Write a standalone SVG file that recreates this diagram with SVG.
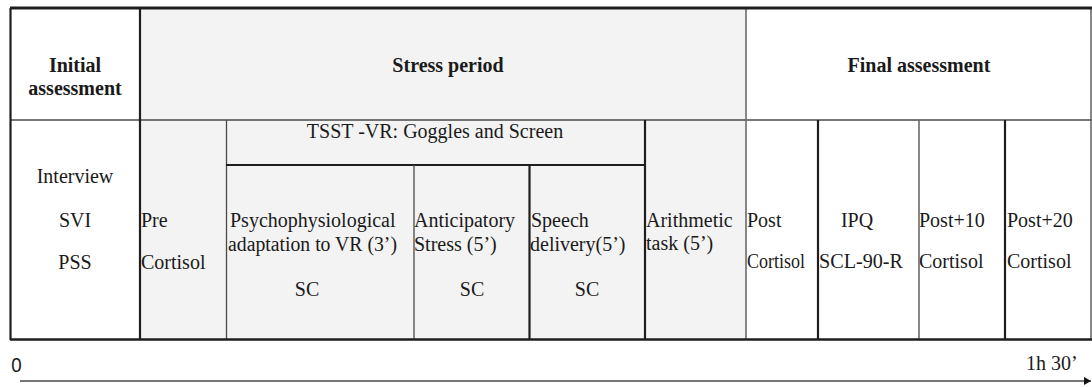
<svg xmlns="http://www.w3.org/2000/svg" width="1092" height="387" viewBox="0 0 1092 387">
  <style>
    .t { font-family: "Liberation Serif", "Times New Roman", serif; font-size: 20px; fill: #1a1a1a; }
    .b { font-weight: bold; }
    .m { text-anchor: middle; }
    .thick { stroke: #1e1e1e; stroke-width: 2.2; fill: none; }
    .thin { stroke: #4a4a4a; stroke-width: 1.3; fill: none; }
    .grey { stroke: #6a6a6a; stroke-width: 1.6; fill: none; }
    .shade { fill: #f3f3f3; }
  </style>
  <defs>
    <marker id="arrowhead" markerWidth="8" markerHeight="8" refX="7" refY="4" orient="auto" markerUnits="userSpaceOnUse">
      <path d="M0,0 L7,4 L0,8 Z" fill="#111"/>
    </marker>
  </defs>

  <rect x="0" y="0" width="1092" height="387" fill="#ffffff"/>

  <!-- shaded stress period band -->
  <rect class="shade" x="140" y="8" width="606" height="332"/>

  <!-- header cells -->
  <g id="initial-assessment">
    <text class="t b m" x="75" y="72">Initial</text>
    <text class="t b m" x="75" y="95">assessment</text>
  </g>
  <g id="stress-period">
    <text class="t b m" x="448" y="72">Stress period</text>
  </g>
  <g id="final-assessment">
    <text class="t b m" x="919" y="72">Final assessment</text>
  </g>

  <!-- body cells -->
  <g id="interview">
    <text class="t m" x="75" y="183">Interview</text>
    <text class="t m" x="75" y="227">SVI</text>
    <text class="t m" x="75" y="269">PSS</text>
  </g>
  <g id="pre-cortisol">
    <text class="t" x="141" y="227">Pre</text>
    <text class="t" x="141" y="269">Cortisol</text>
  </g>
  <g id="tsst-vr">
    <text class="t m" x="435" y="138">TSST -VR: Goggles and Screen</text>
  </g>
  <g id="adaptation">
    <text class="t" x="230" y="227">Psychophysiological</text>
    <text class="t" x="228" y="251" textLength="169" lengthAdjust="spacingAndGlyphs">adaptation to VR (3’)</text>
    <text class="t m" x="307" y="296">SC</text>
  </g>
  <g id="anticipatory">
    <text class="t" x="414" y="227">Anticipatory</text>
    <text class="t" x="414" y="251">Stress (5’)</text>
    <text class="t m" x="472" y="296">SC</text>
  </g>
  <g id="speech">
    <text class="t" x="531" y="227">Speech</text>
    <text class="t" x="530" y="251">delivery(5’)</text>
    <text class="t m" x="587" y="296">SC</text>
  </g>
  <g id="arithmetic">
    <text class="t" x="646" y="227">Arithmetic</text>
    <text class="t" x="646" y="250">task (5’)</text>
  </g>
  <g id="post-cortisol">
    <text class="t" x="747" y="227">Post</text>
    <text class="t" x="747" y="268" textLength="58" lengthAdjust="spacingAndGlyphs">Cortisol</text>
  </g>
  <g id="questionnaires">
    <text class="t m" x="857" y="227">IPQ</text>
    <text class="t m" x="861" y="268" textLength="84" lengthAdjust="spacingAndGlyphs">SCL-90-R</text>
  </g>
  <g id="post-10">
    <text class="t" x="919" y="227">Post+10</text>
    <text class="t" x="919" y="268">Cortisol</text>
  </g>
  <g id="post-20">
    <text class="t" x="1007" y="227">Post+20</text>
    <text class="t" x="1007" y="268">Cortisol</text>
  </g>

  <!-- table grid -->
  <g id="grid">
    <line class="thin" x1="10" y1="120" x2="1092" y2="120"/>
    <line class="thick" x1="10.5" y1="8" x2="10.5" y2="340"/>
    <line class="grey" x1="1091" y1="8" x2="1091" y2="340"/>
    <line class="thick" x1="140" y1="8" x2="140" y2="340"/>
    <line class="grey" x1="746" y1="8" x2="746" y2="340"/>
    <line class="thin" x1="226.5" y1="120" x2="226.5" y2="340"/>
    <line class="thick" x1="226" y1="165" x2="645" y2="165"/>
    <line class="thick" x1="645" y1="120" x2="645" y2="340"/>
    <line class="thin" x1="414" y1="165" x2="414" y2="340"/>
    <line class="thick" x1="529.5" y1="165" x2="529.5" y2="340"/>
    <line class="thick" x1="818" y1="120" x2="818" y2="340"/>
    <line class="grey" x1="919" y1="120" x2="919" y2="340"/>
    <line class="thick" x1="1005" y1="120" x2="1005" y2="340"/>
    <line stroke="#1e1e1e" stroke-width="3" x1="10" y1="8" x2="1092" y2="8"/>
    <line stroke="#1e1e1e" stroke-width="2.6" x1="10" y1="339.5" x2="1092" y2="339.5"/>
  </g>

  <!-- time axis -->
  <g id="connectors">
    <line x1="20" y1="381" x2="1091" y2="381" stroke="#777" stroke-width="2" marker-end="url(#arrowhead)"/>
  </g>
  <g id="axis-labels">
    <text x="11" y="372" font-family="'Noto Sans', 'DejaVu Sans', sans-serif" font-size="19" fill="#1a1a1a">0</text>
    <text class="t" x="1026" y="370">1h 30’</text>
  </g>
</svg>
